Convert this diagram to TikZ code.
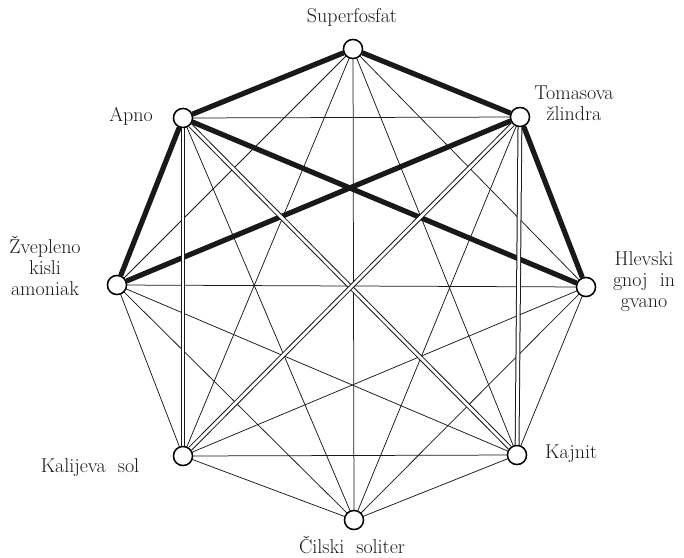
\documentclass[tikz,border=0pt]{standalone}
\usepackage{fontspec}
\begin{document}
\begin{tikzpicture}[x=1pt,y=-1pt,
  dot/.style={circle,draw=black,line width=1.4pt,fill=white,minimum size=19pt,inner sep=0pt},
  thinedge/.style={draw=black!90,line width=0.75pt},
  thickedge/.style={draw=black!90,line width=5.2pt},
  dbledge/.style={draw=black!90,line width=1pt,double=white,double distance=2.8pt},
  lbl/.style={font=\fontsize{20}{21}\selectfont,text=black!90,align=center,inner sep=0pt}]
\useasboundingbox (0,0) rectangle (684,557);
% nodes
\node[dot] (S) at (353,49) {};
\node[dot] (T) at (520,117) {};
\node[dot] (H) at (586,287) {};
\node[dot] (K) at (517,455) {};
\node[dot] (C) at (354,520) {};
\node[dot] (L) at (183,456) {};
\node[dot] (Z) at (117,285) {};
\node[dot] (A) at (183,118) {};
% thin edges
\foreach \a/\b in {S/H,S/K,S/C,S/L,S/Z,T/C,T/A,H/K,H/C,H/L,H/Z,K/C,K/L,K/Z,C/L,C/Z,C/A,L/Z}
  \draw[thinedge] (\a) -- (\b);
% thick edges
\foreach \a/\b in {S/A,S/T,A/Z,T/H,A/H,T/Z}
  \draw[thickedge] (\a) -- (\b);
% double edges
\foreach \a/\b in {A/L,A/K,T/K,T/L}
  \draw[dbledge] (\a) -- (\b);
% redraw nodes on top
\foreach \n/\x/\y in {S/353/49,T/520/117,H/586/287,K/517/455,C/354/520,L/183/456,Z/117/285,A/183/118}
  \node[dot] at (\x,\y) {};
% labels
\node[lbl] (lS) at (352,17) {Superfosfat};
\node[lbl] (lT) at (574,103) {Tomasova\\žlindra};
\node[lbl,anchor=east] (lA) at (153,116) {Apno};
\node[lbl] (lZ) at (45,266) {Žvepleno\\kisli\\amoniak};
\node[lbl] (lH) at (644,282) {Hlevski\\gnoj\ \ in\\gvano};
\node[lbl,anchor=west] (lK) at (545,454) {Kajnit};
\node[lbl] (lL) at (90,468) {Kalijeva\ \ sol};
\node[lbl] (lC) at (352,545) {Čilski\ \ soliter};
\end{tikzpicture}
\end{document}
